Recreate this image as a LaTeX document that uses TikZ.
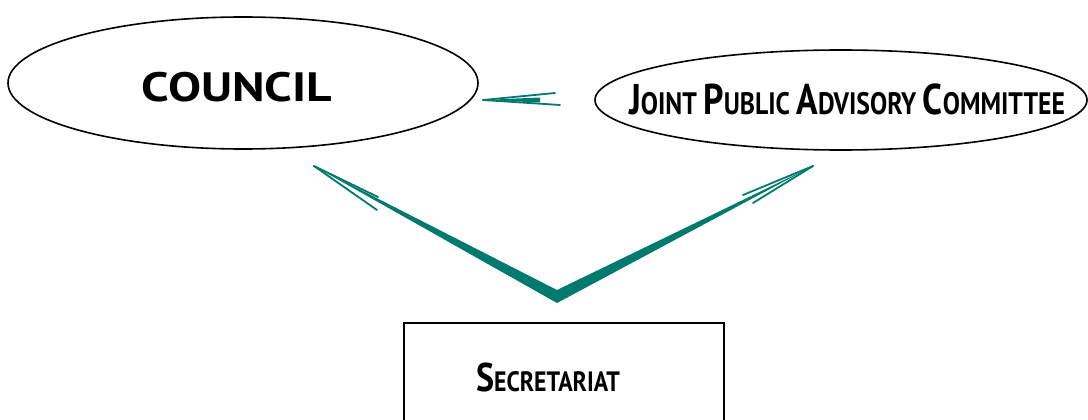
\documentclass[tikz,border=0pt]{standalone}
\usepackage{fontspec}
\setmainfont{PT Sans}
\usepackage{tikz}
\usetikzlibrary{shapes.geometric, positioning, calc}
\definecolor{teal}{RGB}{0,122,110}
\newcommand{\Lg}{\fontsize{43}{43}\selectfont}
\newcommand{\Sm}{\fontsize{31}{31}\selectfont}

\begin{document}
\begin{tikzpicture}[x=1pt,y=-1pt,bubble/.style={draw,ellipse,line width=1.6pt,inner sep=0pt},box/.style={draw,line width=1.5pt,rectangle,inner sep=0pt},title/.style={anchor=base,inner sep=0pt,font=\bfseries},barb/.style={draw=teal,line width=1.8pt,line cap=round}]
  \useasboundingbox (0,0) rectangle (1088,420);
  \node[bubble,minimum width=470,minimum height=132] (council) at (243,83) {};
  \node[bubble,minimum width=492,minimum height=100] (jpac) at (841,100) {};
  \node[box,minimum width=320,minimum height=110] (sec) at (564,378) {};
  \node[title] (councilt) at (237,102) {\resizebox{190pt}{\height}{\fontsize{41}{41}\selectfont COUNCIL}};
  \node[title] (jpact) at (847,115) {\resizebox{436pt}{\height}{\Lg J\Sm OINT \Lg P\Sm UBLIC \Lg A\Sm DVISORY \Lg C\Sm OMMITTEE}};
  \node[title] (sect) at (548,391) {\resizebox{144pt}{\height}{\fontsize{40}{40}\selectfont S\fontsize{28}{28}\selectfont ECRETARIAT}};
  % arrow tips and the V
  \coordinate (tipC) at (314,166);
  \coordinate (tipJ) at (813,166);
  \coordinate (vtop) at (557,290);
  \coordinate (vbot) at (557,303);
  \coordinate (tipH) at (483,100);
  \fill[teal] (tipC) -- (vtop) -- (tipJ) -- (vbot) -- cycle;
  \draw[barb] (tipC) -- ++(64,31);
  \draw[barb] (tipC) -- ++(63,44);
  \draw[barb] (tipJ) -- ++(-70,29);
  \draw[barb] (tipJ) -- ++(-60,37);
  \fill[teal] (tipH) -- (540,97.5) -- (540,102.5) -- cycle;
  \draw[barb] (tipH) -- ++(72,-7);
  \draw[barb] (tipH) -- ++(77,5);
\end{tikzpicture}
\end{document}
